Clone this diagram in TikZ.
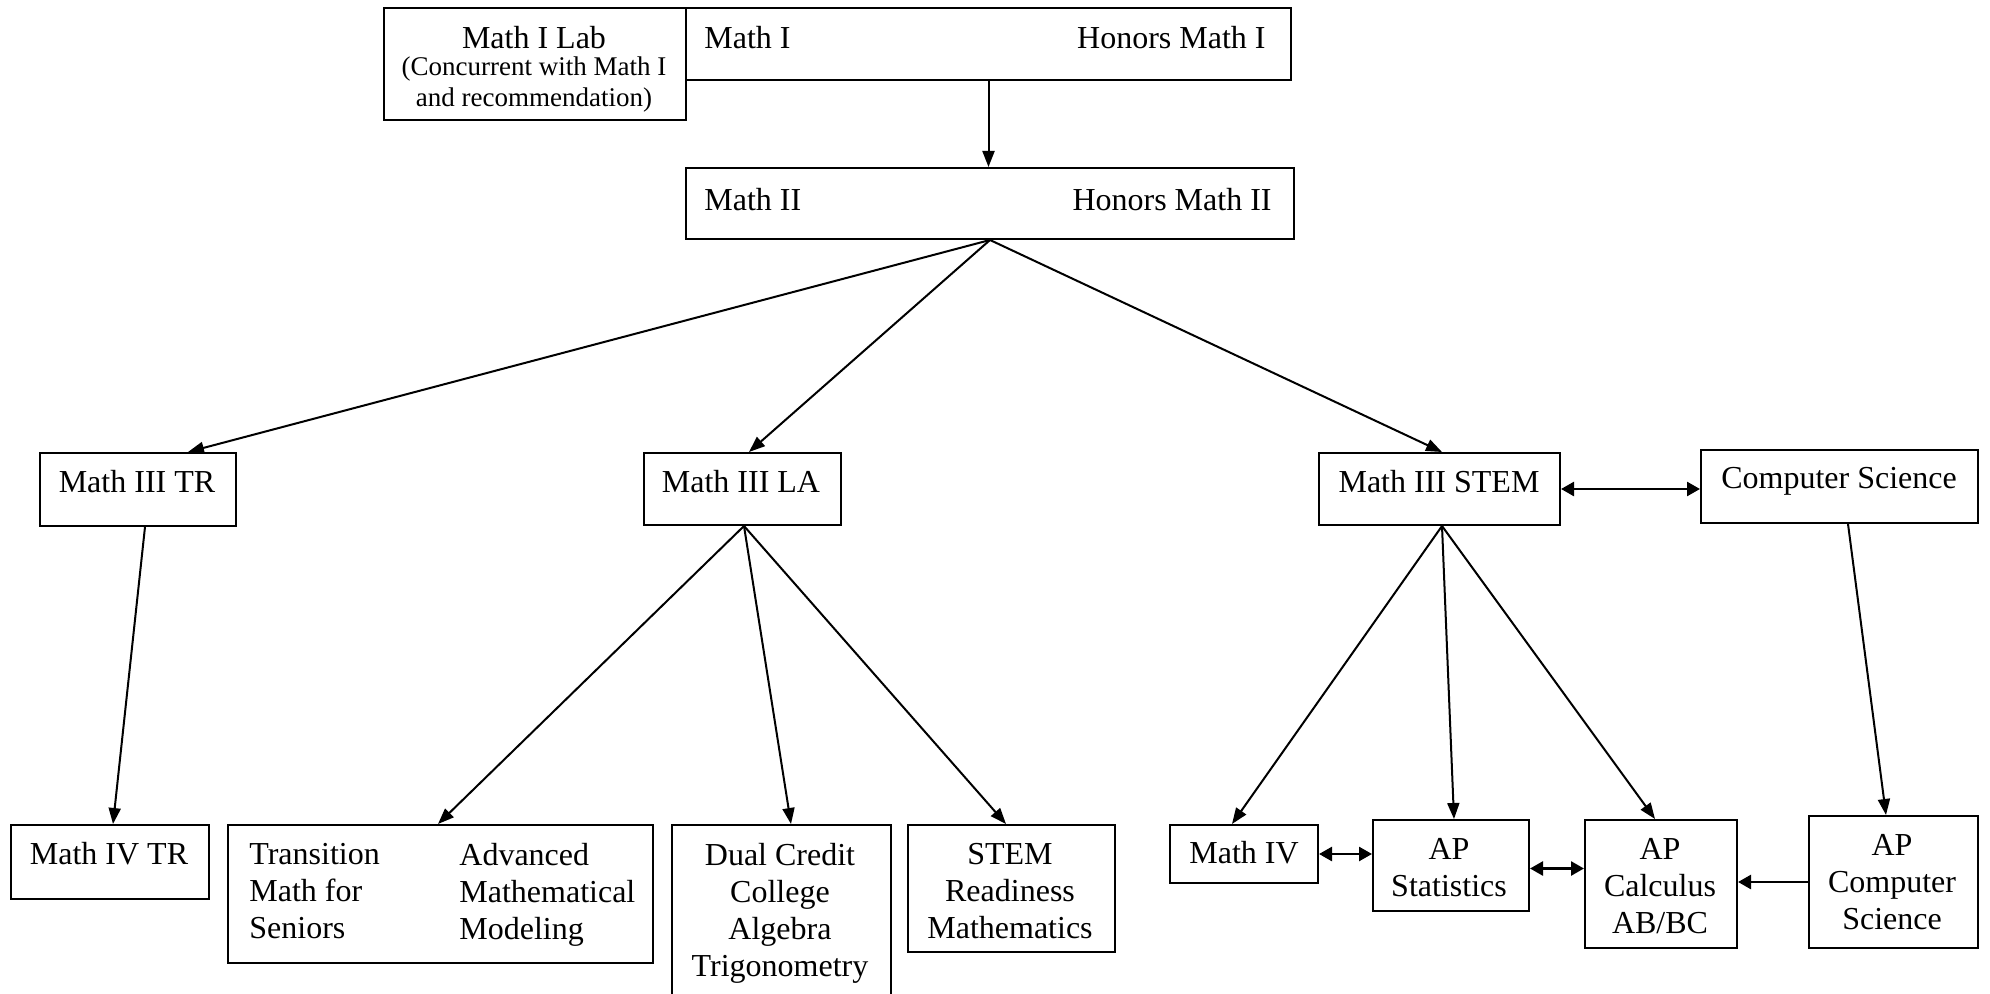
\documentclass[tikz,border=0pt]{standalone}
\usepackage{fontspec}
\setmainfont{Liberation Serif}
\usetikzlibrary{arrows.meta,calc}
\begin{document}
\begin{tikzpicture}[x=0.5pt,y=-0.5pt,
  box/.style={draw,line width=1pt,inner sep=0pt,anchor=north west},
  txt/.style={inner sep=0pt,font=\fontsize{16}{18.5}\selectfont,align=center},
  smalltxt/.style={inner sep=0pt,font=\fontsize{13.5}{15.5}\selectfont,align=center},
  arr/.style={line width=1pt,-{Triangle[length=8pt,width=6pt]}},
  darr/.style={line width=1.3pt,{Triangle[length=6.5pt,width=7pt]}-{Triangle[length=6.5pt,width=7pt]}}]
\useasboundingbox (0,0) rectangle (1990,994);
% boxes
\node[box,minimum width=151pt,minimum height=56pt] (lab) at (383,7) {};
\node[box,minimum width=302.5pt,minimum height=36pt] (m1) at (685,7) {};
\node[box,minimum width=304pt,minimum height=35.5pt] (m2) at (685,167) {};
\node[box,minimum width=98pt,minimum height=36.5pt] (m3tr) at (39,452) {};
\node[box,minimum width=98.5pt,minimum height=36pt] (m3la) at (643,452) {};
\node[box,minimum width=120.5pt,minimum height=36pt] (m3s) at (1318,452) {};
\node[box,minimum width=138.5pt,minimum height=36.5pt] (cs) at (1700,449) {};
\node[box,minimum width=99pt,minimum height=37pt] (m4tr) at (10,824) {};
\node[box,minimum width=212.5pt,minimum height=69pt] (trans) at (227,824) {};
\node[box,minimum width=109.5pt,minimum height=93pt] (dual) at (671,824) {};
\node[box,minimum width=103.5pt,minimum height=63.5pt] (stemr) at (907,824) {};
\node[box,minimum width=74pt,minimum height=29pt] (m4) at (1169,824) {};
\node[box,minimum width=78pt,minimum height=45.5pt] (aps) at (1372,819) {};
\node[box,minimum width=76pt,minimum height=64pt] (apc) at (1584,819) {};
\node[box,minimum width=84.5pt,minimum height=66pt] (apcs) at (1808,815) {};
% texts
\node[txt] (labt) at (534,38) {Math I Lab};
\node[smalltxt] (labs) at (534,85) {(Concurrent with Math I\\and recommendation)};
\node[txt,anchor=west] (m1a) at (704,38) {Math I};
\node[txt,anchor=east] (m1b) at (1266,38) {Honors Math I};
\node[txt,anchor=west] (m2a) at (704,200) {Math II};
\node[txt,anchor=east] (m2b) at (1272,200) {Honors Math II};
\node[txt] (t3tr) at (137,482) {Math III TR};
\node[txt] (t3la) at (741,482) {Math III LA};
\node[txt] (t3s) at (1439,482) {Math III STEM};
\node[txt] (tcs) at (1839,481) {Computer Science};
\node[txt] (t4tr) at (109,854) {Math IV TR};
\node[txt,align=left,anchor=west] (ttr1) at (249,891) {Transition\\Math for\\Seniors};
\node[txt,align=left,anchor=west] (ttr2) at (459,895) {Advanced\\Mathematical\\Modeling};
\node[txt] (tdual) at (780,913) {Dual Credit\\College\\Algebra\\Trigonometry};
\node[txt] (tstemr) at (1010,891) {STEM\\Readiness\\Mathematics};
\node[txt] (tm4) at (1244,853) {Math IV};
\node[txt] (taps) at (1449,868) {AP\\Statistics};
\node[txt] (tapc) at (1660,886) {AP\\Calculus\\AB/BC};
\node[txt] (tapcs) at (1892,882) {AP\\Computer\\Science};
% connectors
\draw[arr] (m1.south) -- (m1.south |- m2.north);
\draw[arr] (m2.south) -- ($(m3tr.north west)+(149,0)$);
\draw[arr] (m2.south) -- ($(m3la.north west)+(106,0)$);
\draw[arr] (m2.south) -- ($(m3s.north west)+(124,0)$);
\draw[arr] ($(m3tr.south west)+(106,0)$) -- ($(m4tr.north west)+(103,0)$);
\draw[arr] ($(m3la.south west)+(101,0)$) -- ($(trans.north west)+(211,0)$);
\draw[arr] ($(m3la.south west)+(101,0)$) -- ($(dual.north west)+(120,0)$);
\draw[arr] ($(m3la.south west)+(101,0)$) -- ($(stemr.north west)+(99,0)$);
\draw[arr] ($(m3s.south west)+(124,0)$) -- ($(m4.north west)+(63,0)$);
\draw[arr] ($(m3s.south west)+(124,0)$) -- ($(aps.north west)+(82,0)$);
\draw[arr] ($(m3s.south west)+(124,0)$) -- ($(apc.north west)+(71,0)$);
\draw[arr] ($(cs.south west)+(148,0)$) -- ($(apcs.north west)+(78,0)$);
\draw[darr] (m3s.east) -- (m3s.east -| cs.west);
\draw[darr] (m4.east) -- (m4.east -| aps.west);
\draw[darr] ($(aps.east)+(0,3)$) -- ($(aps.east -| apc.west)+(0,3)$);
\draw[line width=1.3pt,-{Triangle[length=6.5pt,width=7pt]}] (apcs.west) -- (apcs.west -| apc.east);
\end{tikzpicture}
\end{document}
